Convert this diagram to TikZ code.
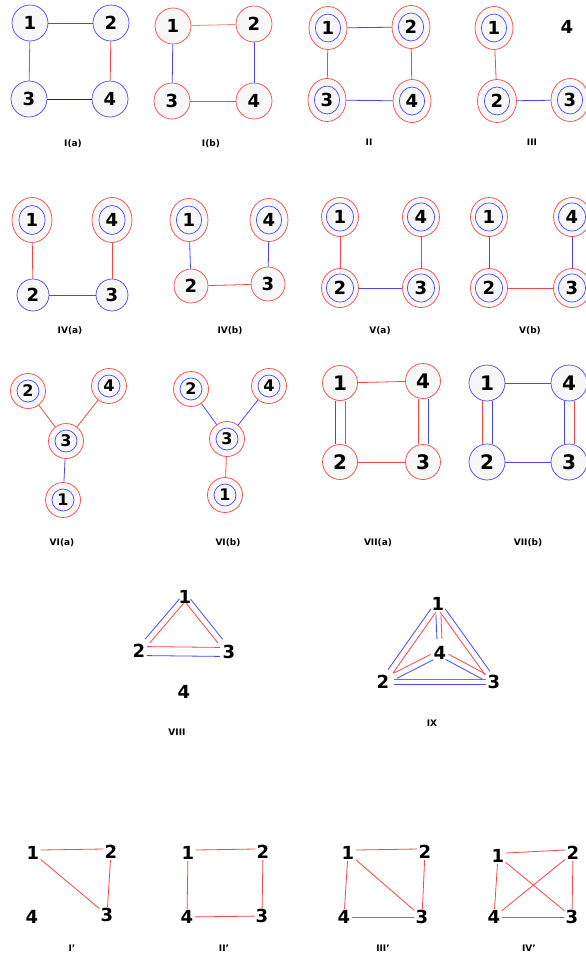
\documentclass[tikz,border=0pt]{standalone}
\usepackage{fontspec}
\setmainfont{DejaVu Sans}
\usetikzlibrary{calc,shapes.geometric}
\definecolor{rd}{RGB}{242,72,72}
\definecolor{lrd}{RGB}{246,130,130}
\definecolor{bl}{RGB}{72,72,238}
\definecolor{nv}{RGB}{35,35,70}
\definecolor{fl}{RGB}{247,247,247}
% double line between two nodes: A, B, shorten at A, shorten at B, left colour, right colour, half gap
\newcommand\twin[7]{%
  \draw[#5] ($(#1)!#3!(#2)!#7!90:(#2)$) -- ($(#2)!#4!(#1)!#7!-90:(#1)$);
  \draw[#6] ($(#1)!#3!(#2)!#7!-90:(#2)$) -- ($(#2)!#4!(#1)!#7!90:(#1)$);}
\begin{document}
\begin{tikzpicture}[x=1pt,y=-1pt,line width=0.8pt,
  num/.style={font=\fontsize{18}{18}\selectfont\bfseries,inner sep=0pt},
  bignum/.style={font=\fontsize{20}{20}\selectfont\bfseries,inner sep=0.5pt},
  smallnum/.style={font=\fontsize{16}{16}\selectfont\bfseries,inner sep=0pt},
  lab/.style={font=\fontsize{9}{10}\selectfont\bfseries,inner sep=0pt},
  sgl/.style n args={2}{circle,draw=#1,fill=fl,inner sep=0pt,minimum size=#2,line width=0.7pt,num},
  dbl/.style n args={4}{ellipse,draw=rd,fill=fl,inner sep=0pt,minimum width=#1,minimum height=#2,line width=0.7pt,num,
    path picture={\draw[bl,line width=0.7pt] (path picture bounding box.center) ellipse [x radius=#3,y radius=#4];}},
]
\fill[white] (0,0) rectangle (586,962);
\useasboundingbox (0,0) rectangle (586,962);

% ---------- I(a)
\node[sgl={bl}{36pt}] (a1) at (30,23) {1};
\node[sgl={bl}{36pt}] (a2) at (111,23) {2};
\node[sgl={bl}{36pt}] (a3) at (29,99) {3};
\node[sgl={bl}{36pt}] (a4) at (110,99) {4};
\draw[bl] (a1) -- (a2);
\draw[rd] (a1) -- (a3);
\draw[rd] (a2) -- (a4);
\draw[nv] (a3) -- (a4);
\node[lab] (la) at (73,144) {I(a)};

% ---------- I(b)
\node[sgl={rd}{36pt}] (b1) at (173,26) {1};
\node[sgl={rd}{36pt}] (b2) at (254,24) {2};
\node[sgl={rd}{36pt}] (b3) at (172,101) {3};
\node[sgl={rd}{36pt}] (b4) at (254,101) {4};
\draw[lrd] (b1) -- (b2);
\draw[bl] (b1) -- (b3);
\draw[bl] (b2) -- (b4);
\draw[rd] (b3) -- (b4);
\node[lab] (lb) at (211,144) {I(b)};

% ---------- II
\node[dbl={38pt}{43pt}{12.5pt}{14pt}] (c1) at (328,28) {1};
\node[dbl={38pt}{43pt}{12.5pt}{14pt}] (c2) at (411,27) {2};
\node[dbl={38pt}{43pt}{12.5pt}{14pt}] (c3) at (327,100) {3};
\node[dbl={38pt}{43pt}{12.5pt}{14pt}] (c4) at (412,101) {4};
\draw[bl] (c1) -- (c2);
\draw[rd] (c1) -- (c3);
\draw[rd] (c2) -- (c4);
\draw[bl] (c3) -- (c4);
\node[lab] (lc) at (369,142) {II};

% ---------- III
\node[dbl={38pt}{43pt}{12.5pt}{14pt}] (d1) at (494,28) {1};
\node[dbl={39pt}{43pt}{12.5pt}{14pt}] (d2) at (497,101) {2};
\node[dbl={38pt}{43pt}{12.5pt}{14pt}] (d3) at (570,100) {3};
\node[num] (d4) at (567,27) {4};
\draw[rd] (d1) -- (d2);
\draw[bl] (d2) -- (d3);
\node[lab] (ld) at (532,142) {III};

% ---------- IV(a)
\node[dbl={40pt}{45pt}{13pt}{14.5pt}] (e1) at (32,220) {1};
\node[dbl={40pt}{45pt}{13pt}{14.5pt}] (e4) at (112,220) {4};
\node[sgl={bl}{32pt}] (e2) at (33,295) {2};
\node[sgl={bl}{32pt}] (e3) at (112,295) {3};
\draw[rd] (e1) -- (e2);
\draw[rd] (e4) -- (e3);
\draw[bl] (e2) -- (e3);
\node[lab] (le) at (70,331) {IV(a)};

% ---------- IV(b)
\node[dbl={38pt}{43pt}{12.5pt}{14pt}] (f1) at (189,220) {1};
\node[dbl={38pt}{43pt}{12.5pt}{14pt}] (f4) at (269,220) {4};
\node[sgl={rd}{34pt}] (f2) at (191,286) {2};
\node[sgl={rd}{34pt}] (f3) at (268,284) {3};
\draw[bl] (f1) -- (f2);
\draw[bl] (f4) -- (f3);
\draw[rd] (f2) -- (f3);
\node[lab] (lf) at (230,331) {IV(b)};

% ---------- V(a)
\node[dbl={37pt}{39pt}{13.5pt}{14pt}] (g1) at (340,217) {1};
\node[dbl={37pt}{39pt}{13.5pt}{14pt}] (g4) at (421,217) {4};
\node[dbl={37pt}{39pt}{13.5pt}{14pt}] (g2) at (340,288) {2};
\node[dbl={37pt}{39pt}{13.5pt}{14pt}] (g3) at (421,288) {3};
\draw[rd] (g1) -- (g2);
\draw[rd] (g4) -- (g3);
\draw[bl] (g2) -- (g3);
\node[lab] (lg) at (380,331) {V(a)};

% ---------- V(b)
\node[dbl={37pt}{39pt}{13.5pt}{14pt}] (h1) at (489,217) {1};
\node[dbl={37pt}{39pt}{13.5pt}{14pt}] (h4) at (572,217) {4};
\node[dbl={37pt}{39pt}{13.5pt}{14pt}] (h2) at (489,288) {2};
\node[dbl={37pt}{39pt}{13.5pt}{14pt}] (h3) at (572,288) {3};
\draw[bl] (h1) -- (h2);
\draw[bl] (h4) -- (h3);
\draw[rd] (h2) -- (h3);
\node[lab] (lh) at (530,331) {V(b)};

% ---------- VI(a)
\node[dbl={35pt}{35pt}{11pt}{11pt},smallnum] (i2) at (28,391) {2};
\node[dbl={35pt}{35pt}{11pt}{11pt},smallnum] (i4) at (109,386) {4};
\node[dbl={35pt}{35pt}{11pt}{11pt},smallnum] (i3) at (66,441) {3};
\node[dbl={35pt}{35pt}{11pt}{11pt},smallnum] (i1) at (63,500) {1};
\draw[rd] (i2) -- (i3);
\draw[rd] (i4) -- (i3);
\draw[bl] (i3) -- (i1);
\node[lab] (li) at (62,543) {VI(a)};

% ---------- VI(b)
\node[dbl={35pt}{35pt}{11pt}{11pt},smallnum] (j2) at (191,389) {2};
\node[dbl={35pt}{35pt}{11pt}{11pt},smallnum] (j4) at (269,386) {4};
\node[dbl={35pt}{35pt}{11pt}{11pt},smallnum] (j3) at (227,439) {3};
\node[dbl={35pt}{35pt}{11pt}{11pt},smallnum] (j1) at (225,495) {1};
\draw[bl] (j2) -- (j3);
\draw[bl] (j4) -- (j3);
\draw[rd] (j3) -- (j1);
\node[lab] (lj) at (228,543) {VI(b)};

% ---------- VII(a)
\node[sgl={rd}{35pt},bignum] (k1) at (340,383) {1};
\node[sgl={rd}{35pt},bignum] (k4) at (423,381) {4};
\node[sgl={rd}{35pt},bignum] (k2) at (340,462) {2};
\node[sgl={rd}{35pt},bignum] (k3) at (423,462) {3};
\draw[rd] (k1) -- (k4);
\draw[rd] (k2) -- (k3);
\draw[bl] ([xshift=-5pt]k1.south) -- ([xshift=-5pt]k2.north);
\draw[rd] ([xshift=5pt]k1.south) -- ([xshift=5pt]k2.north);
\draw[rd] ([xshift=-5pt]k4.south) -- ([xshift=-5pt]k3.north);
\draw[bl] ([xshift=5pt]k4.south) -- ([xshift=5pt]k3.north);
\node[lab] (lk) at (378,543) {VII(a)};

% ---------- VII(b)
\node[sgl={bl}{36pt},bignum] (l1) at (487,383) {1};
\node[sgl={bl}{36pt},bignum] (l4) at (569,383) {4};
\node[sgl={bl}{36pt},bignum] (l2) at (487,462) {2};
\node[sgl={bl}{36pt},bignum] (l3) at (569,462) {3};
\draw[bl] (l1) -- (l4);
\draw[bl] (l2) -- (l3);
\draw[rd] ([xshift=-5pt]l1.south) -- ([xshift=-5pt]l2.north);
\draw[bl] ([xshift=5pt]l1.south) -- ([xshift=5pt]l2.north);
\draw[bl] ([xshift=-5pt]l4.south) -- ([xshift=-5pt]l3.north);
\draw[rd] ([xshift=5pt]l4.south) -- ([xshift=5pt]l3.north);
\node[lab] (ll) at (528,543) {VII(b)};

% ---------- VIII
\node[num] (m1) at (185,597) {1};
\node[num] (m2) at (139,651) {2};
\node[num] (m3) at (229,652) {3};
\node[num] (m4) at (184,692) {4};
\twin{m1}{m2}{5pt}{13pt}{rd}{bl}{3pt}
\twin{m1}{m3}{5pt}{14pt}{bl}{rd}{3pt}
\twin{m2}{m3}{8pt}{9pt}{rd}{bl}{4.5pt}
\node[lab] (lm) at (177,732) {VIII};

% ---------- IX
\node[num] (n1) at (438,604) {1};
\node[num] (n4) at (440,653) {4};
\node[num] (n2) at (383,682) {2};
\node[num] (n3) at (494,682) {3};
\twin{n1}{n2}{8pt}{13pt}{rd}{bl}{3pt}
\twin{n1}{n3}{8pt}{11pt}{bl}{rd}{3pt}
\twin{n1}{n4}{11pt}{14pt}{rd}{bl}{2.5pt}
\twin{n4}{n2}{9pt}{14pt}{bl}{rd}{3pt}
\twin{n4}{n3}{8pt}{11pt}{rd}{bl}{3pt}
\twin{n2}{n3}{11pt}{8pt}{rd}{bl}{2.5pt}
\node[lab] (ln) at (432,723) {IX};

% ---------- I'
\node[num,inner sep=1pt] (p1) at (33,853) {1};
\node[num,inner sep=1pt] (p2) at (111,852) {2};
\node[num,inner sep=1pt] (p3) at (107,915) {3};
\node[num,inner sep=1pt] (p4) at (32,917) {4};
\draw[rd] ([yshift=3pt]p1.east) -- ([yshift=3pt]p2.west);
\draw[rd] (p2) -- (p3);
\draw[rd] (p1) -- (p3);
\node[lab] (lp) at (72,948) {I'};

% ---------- II'
\node[num,inner sep=1pt] (q1) at (188,853) {1};
\node[num,inner sep=1pt] (q2) at (263,852) {2};
\node[num,inner sep=1pt] (q3) at (262,916) {3};
\node[num,inner sep=1pt] (q4) at (187,917) {4};
\draw[rd] ([yshift=3pt]q1.east) -- ([yshift=3pt]q2.west);
\draw[rd] (q2) -- (q3);
\draw[rd] (q3) -- (q4);
\draw[rd] (q4) -- (q1);
\node[lab] (lq) at (224,948) {II'};

% ---------- III'
\node[num,inner sep=1pt] (r1) at (348,853) {1};
\node[num,inner sep=1pt] (r2) at (425,852) {2};
\node[num,inner sep=1pt] (r3) at (422,917) {3};
\node[num,inner sep=1pt] (r4) at (344,917) {4};
\draw[rd] ([yshift=3pt]r1.east) -- ([yshift=3pt]r2.west);
\draw[rd] (r2) -- (r3);
\draw[rd] (r3) -- (r4);
\draw[rd] (r4) -- (r1);
\draw[rd] (r1) -- (r3);
\node[lab] (lr) at (383,948) {III'};

% ---------- IV'
\node[num,inner sep=1pt] (s1) at (498,856) {1};
\node[num,inner sep=1pt] (s2) at (573,853) {2};
\node[num,inner sep=1pt] (s3) at (572,917) {3};
\node[num,inner sep=1pt] (s4) at (494,917) {4};
\draw[rd] ([yshift=3pt]s1.east) -- ([yshift=3pt]s2.west);
\draw[rd] (s2) -- (s3);
\draw[rd] (s3) -- (s4);
\draw[rd] (s4) -- (s1);
\draw[rd] (s1) -- (s3);
\draw[rd] (s2) -- (s4);
\node[lab] (ls) at (529,948) {IV'};
\end{tikzpicture}
\end{document}
